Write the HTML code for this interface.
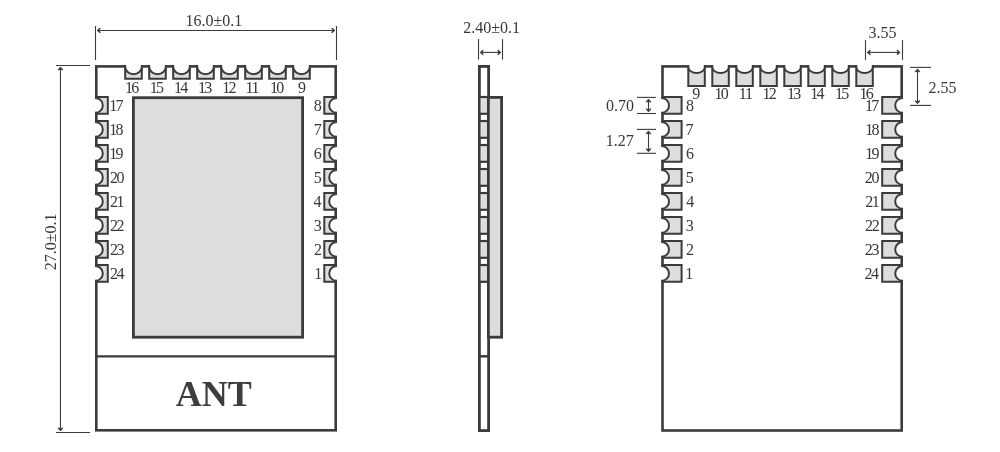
<!DOCTYPE html>
<html><head><meta charset="utf-8"><style>
html,body{margin:0;padding:0;background:#fff;}
body{width:1000px;height:452px;overflow:hidden;}
svg{display:block;filter:grayscale(1);}
text{font-family:"Liberation Serif",serif;fill:#383838;}
</style></head><body>
<svg width="1000" height="452" viewBox="0 0 1000 452">
<rect x="96.30" y="66.40" width="239.40" height="363.90" fill="none" stroke="#3b3b3b" stroke-width="2.60"/>
<line x1="96.30" y1="356.40" x2="335.70" y2="356.40" stroke="#3b3b3b" stroke-width="2.40"/>
<rect x="133.4" y="97.7" width="169.2" height="239.5" fill="#dddddd" stroke="#3b3b3b" stroke-width="2.8"/>
<path d="M125.20 66.40 V78.70 H141.80 V66.40" fill="#dddddd" stroke="#3b3b3b" stroke-width="2.00"/><path d="M125.20 64.10 V66.90 A8.30 7.25 0 0 0 141.80 66.90 V64.10 Z" fill="#fff"/><path d="M125.20 65.10 V66.90 A8.30 7.25 0 0 0 141.80 66.90 V65.10" fill="none" stroke="#3b3b3b" stroke-width="2.00"/>
<text x="125.04 131.24" y="92.80" font-size="16.00">16</text>
<path d="M149.20 66.40 V78.70 H165.80 V66.40" fill="#dddddd" stroke="#3b3b3b" stroke-width="2.00"/><path d="M149.20 64.10 V66.90 A8.30 7.25 0 0 0 165.80 66.90 V64.10 Z" fill="#fff"/><path d="M149.20 65.10 V66.90 A8.30 7.25 0 0 0 165.80 66.90 V65.10" fill="none" stroke="#3b3b3b" stroke-width="2.00"/>
<text x="149.81 156.01" y="92.80" font-size="16.00">15</text>
<path d="M173.20 66.40 V78.70 H189.80 V66.40" fill="#dddddd" stroke="#3b3b3b" stroke-width="2.00"/><path d="M173.20 64.10 V66.90 A8.30 7.25 0 0 0 189.80 66.90 V64.10 Z" fill="#fff"/><path d="M173.20 65.10 V66.90 A8.30 7.25 0 0 0 189.80 66.90 V65.10" fill="none" stroke="#3b3b3b" stroke-width="2.00"/>
<text x="174.12 180.32" y="92.80" font-size="16.00">14</text>
<path d="M197.20 66.40 V78.70 H213.80 V66.40" fill="#dddddd" stroke="#3b3b3b" stroke-width="2.00"/><path d="M197.20 64.10 V66.90 A8.30 7.25 0 0 0 213.80 66.90 V64.10 Z" fill="#fff"/><path d="M197.20 65.10 V66.90 A8.30 7.25 0 0 0 213.80 66.90 V65.10" fill="none" stroke="#3b3b3b" stroke-width="2.00"/>
<text x="198.11 204.31" y="92.80" font-size="16.00">13</text>
<path d="M221.20 66.40 V78.70 H237.80 V66.40" fill="#dddddd" stroke="#3b3b3b" stroke-width="2.00"/><path d="M221.20 64.10 V66.90 A8.30 7.25 0 0 0 237.80 66.90 V64.10 Z" fill="#fff"/><path d="M221.20 65.10 V66.90 A8.30 7.25 0 0 0 237.80 66.90 V65.10" fill="none" stroke="#3b3b3b" stroke-width="2.00"/>
<text x="222.24 228.44" y="92.80" font-size="16.00">12</text>
<path d="M245.20 66.40 V78.70 H261.80 V66.40" fill="#dddddd" stroke="#3b3b3b" stroke-width="2.00"/><path d="M245.20 64.10 V66.90 A8.30 7.25 0 0 0 261.80 66.90 V64.10 Z" fill="#fff"/><path d="M245.20 65.10 V66.90 A8.30 7.25 0 0 0 261.80 66.90 V65.10" fill="none" stroke="#3b3b3b" stroke-width="2.00"/>
<text x="245.38 251.58" y="92.80" font-size="16.00">11</text>
<path d="M269.20 66.40 V78.70 H285.80 V66.40" fill="#dddddd" stroke="#3b3b3b" stroke-width="2.00"/><path d="M269.20 64.10 V66.90 A8.30 7.25 0 0 0 285.80 66.90 V64.10 Z" fill="#fff"/><path d="M269.20 65.10 V66.90 A8.30 7.25 0 0 0 285.80 66.90 V65.10" fill="none" stroke="#3b3b3b" stroke-width="2.00"/>
<text x="270.10 276.30" y="92.80" font-size="16.00">10</text>
<path d="M293.20 66.40 V78.70 H309.80 V66.40" fill="#dddddd" stroke="#3b3b3b" stroke-width="2.00"/><path d="M293.20 64.10 V66.90 A8.30 7.25 0 0 0 309.80 66.90 V64.10 Z" fill="#fff"/><path d="M293.20 65.10 V66.90 A8.30 7.25 0 0 0 309.80 66.90 V65.10" fill="none" stroke="#3b3b3b" stroke-width="2.00"/>
<text x="298.07" y="92.80" font-size="16.00">9</text>
<path d="M96.30 97.00 H107.80 V113.80 H96.30" fill="#dddddd" stroke="#3b3b3b" stroke-width="2.00"/><path d="M94.00 98.00 H95.40 A7.40 7.40 0 0 1 95.40 112.80 H94.00 Z" fill="#fff"/><path d="M95.00 98.00 H95.40 A7.40 7.40 0 0 1 95.40 112.80 H95.00" fill="none" stroke="#3b3b3b" stroke-width="2.00"/>
<text x="109.19 115.39" y="111.00" font-size="16.00">17</text>
<path d="M335.70 97.00 H324.30 V113.80 H335.70" fill="#dddddd" stroke="#3b3b3b" stroke-width="2.00"/><path d="M338.00 98.00 H336.60 A7.40 7.40 0 0 0 336.60 112.80 H338.00 Z" fill="#fff"/><path d="M337.00 98.00 H336.60 A7.40 7.40 0 0 0 336.60 112.80 H337.00" fill="none" stroke="#3b3b3b" stroke-width="2.00"/>
<text x="313.81" y="111.00" font-size="16.00">8</text>
<path d="M96.30 121.00 H107.80 V137.80 H96.30" fill="#dddddd" stroke="#3b3b3b" stroke-width="2.00"/><path d="M94.00 122.00 H95.40 A7.40 7.40 0 0 1 95.40 136.80 H94.00 Z" fill="#fff"/><path d="M95.00 122.00 H95.40 A7.40 7.40 0 0 1 95.40 136.80 H95.00" fill="none" stroke="#3b3b3b" stroke-width="2.00"/>
<text x="109.19 115.39" y="135.00" font-size="16.00">18</text>
<path d="M335.70 121.00 H324.30 V137.80 H335.70" fill="#dddddd" stroke="#3b3b3b" stroke-width="2.00"/><path d="M338.00 122.00 H336.60 A7.40 7.40 0 0 0 336.60 136.80 H338.00 Z" fill="#fff"/><path d="M337.00 122.00 H336.60 A7.40 7.40 0 0 0 336.60 136.80 H337.00" fill="none" stroke="#3b3b3b" stroke-width="2.00"/>
<text x="313.66" y="135.00" font-size="16.00">7</text>
<path d="M96.30 145.00 H107.80 V161.80 H96.30" fill="#dddddd" stroke="#3b3b3b" stroke-width="2.00"/><path d="M94.00 146.00 H95.40 A7.40 7.40 0 0 1 95.40 160.80 H94.00 Z" fill="#fff"/><path d="M95.00 146.00 H95.40 A7.40 7.40 0 0 1 95.40 160.80 H95.00" fill="none" stroke="#3b3b3b" stroke-width="2.00"/>
<text x="109.19 115.39" y="159.00" font-size="16.00">19</text>
<path d="M335.70 145.00 H324.30 V161.80 H335.70" fill="#dddddd" stroke="#3b3b3b" stroke-width="2.00"/><path d="M338.00 146.00 H336.60 A7.40 7.40 0 0 0 336.60 160.80 H338.00 Z" fill="#fff"/><path d="M337.00 146.00 H336.60 A7.40 7.40 0 0 0 336.60 160.80 H337.00" fill="none" stroke="#3b3b3b" stroke-width="2.00"/>
<text x="313.68" y="159.00" font-size="16.00">6</text>
<path d="M96.30 169.00 H107.80 V185.80 H96.30" fill="#dddddd" stroke="#3b3b3b" stroke-width="2.00"/><path d="M94.00 170.00 H95.40 A7.40 7.40 0 0 1 95.40 184.80 H94.00 Z" fill="#fff"/><path d="M95.00 170.00 H95.40 A7.40 7.40 0 0 1 95.40 184.80 H95.00" fill="none" stroke="#3b3b3b" stroke-width="2.00"/>
<text x="109.90 116.50" y="183.00" font-size="16.00">20</text>
<path d="M335.70 169.00 H324.30 V185.80 H335.70" fill="#dddddd" stroke="#3b3b3b" stroke-width="2.00"/><path d="M338.00 170.00 H336.60 A7.40 7.40 0 0 0 336.60 184.80 H338.00 Z" fill="#fff"/><path d="M337.00 170.00 H336.60 A7.40 7.40 0 0 0 336.60 184.80 H337.00" fill="none" stroke="#3b3b3b" stroke-width="2.00"/>
<text x="313.82" y="183.00" font-size="16.00">5</text>
<path d="M96.30 193.00 H107.80 V209.80 H96.30" fill="#dddddd" stroke="#3b3b3b" stroke-width="2.00"/><path d="M94.00 194.00 H95.40 A7.40 7.40 0 0 1 95.40 208.80 H94.00 Z" fill="#fff"/><path d="M95.00 194.00 H95.40 A7.40 7.40 0 0 1 95.40 208.80 H95.00" fill="none" stroke="#3b3b3b" stroke-width="2.00"/>
<text x="109.90 116.50" y="207.00" font-size="16.00">21</text>
<path d="M335.70 193.00 H324.30 V209.80 H335.70" fill="#dddddd" stroke="#3b3b3b" stroke-width="2.00"/><path d="M338.00 194.00 H336.60 A7.40 7.40 0 0 0 336.60 208.80 H338.00 Z" fill="#fff"/><path d="M337.00 194.00 H336.60 A7.40 7.40 0 0 0 336.60 208.80 H337.00" fill="none" stroke="#3b3b3b" stroke-width="2.00"/>
<text x="313.45" y="207.00" font-size="16.00">4</text>
<path d="M96.30 217.00 H107.80 V233.80 H96.30" fill="#dddddd" stroke="#3b3b3b" stroke-width="2.00"/><path d="M94.00 218.00 H95.40 A7.40 7.40 0 0 1 95.40 232.80 H94.00 Z" fill="#fff"/><path d="M95.00 218.00 H95.40 A7.40 7.40 0 0 1 95.40 232.80 H95.00" fill="none" stroke="#3b3b3b" stroke-width="2.00"/>
<text x="109.90 116.50" y="231.00" font-size="16.00">22</text>
<path d="M335.70 217.00 H324.30 V233.80 H335.70" fill="#dddddd" stroke="#3b3b3b" stroke-width="2.00"/><path d="M338.00 218.00 H336.60 A7.40 7.40 0 0 0 336.60 232.80 H338.00 Z" fill="#fff"/><path d="M337.00 218.00 H336.60 A7.40 7.40 0 0 0 336.60 232.80 H337.00" fill="none" stroke="#3b3b3b" stroke-width="2.00"/>
<text x="313.82" y="231.00" font-size="16.00">3</text>
<path d="M96.30 241.00 H107.80 V257.80 H96.30" fill="#dddddd" stroke="#3b3b3b" stroke-width="2.00"/><path d="M94.00 242.00 H95.40 A7.40 7.40 0 0 1 95.40 256.80 H94.00 Z" fill="#fff"/><path d="M95.00 242.00 H95.40 A7.40 7.40 0 0 1 95.40 256.80 H95.00" fill="none" stroke="#3b3b3b" stroke-width="2.00"/>
<text x="109.90 116.50" y="255.00" font-size="16.00">23</text>
<path d="M335.70 241.00 H324.30 V257.80 H335.70" fill="#dddddd" stroke="#3b3b3b" stroke-width="2.00"/><path d="M338.00 242.00 H336.60 A7.40 7.40 0 0 0 336.60 256.80 H338.00 Z" fill="#fff"/><path d="M337.00 242.00 H336.60 A7.40 7.40 0 0 0 336.60 256.80 H337.00" fill="none" stroke="#3b3b3b" stroke-width="2.00"/>
<text x="314.08" y="255.00" font-size="16.00">2</text>
<path d="M96.30 265.00 H107.80 V281.80 H96.30" fill="#dddddd" stroke="#3b3b3b" stroke-width="2.00"/><path d="M94.00 266.00 H95.40 A7.40 7.40 0 0 1 95.40 280.80 H94.00 Z" fill="#fff"/><path d="M95.00 266.00 H95.40 A7.40 7.40 0 0 1 95.40 280.80 H95.00" fill="none" stroke="#3b3b3b" stroke-width="2.00"/>
<text x="109.90 116.50" y="279.00" font-size="16.00">24</text>
<path d="M335.70 265.00 H324.30 V281.80 H335.70" fill="#dddddd" stroke="#3b3b3b" stroke-width="2.00"/><path d="M338.00 266.00 H336.60 A7.40 7.40 0 0 0 336.60 280.80 H338.00 Z" fill="#fff"/><path d="M337.00 266.00 H336.60 A7.40 7.40 0 0 0 336.60 280.80 H337.00" fill="none" stroke="#3b3b3b" stroke-width="2.00"/>
<text x="314.16" y="279.00" font-size="16.00">1</text>
<text x="213.7" y="405.6" text-anchor="middle" font-size="36" font-weight="bold" style="fill:#3d3d3d">ANT</text>
<line x1="95.50" y1="26.00" x2="95.50" y2="60.00" stroke="#3b3b3b" stroke-width="1.10"/>
<line x1="336.50" y1="26.00" x2="336.50" y2="60.00" stroke="#3b3b3b" stroke-width="1.10"/>
<line x1="98.60" y1="30.45" x2="333.40" y2="30.45" stroke="#3b3b3b" stroke-width="1.10"/><path d="M97.10 30.45 L100.10 27.95 L99.30 30.45 L100.10 32.95 Z" fill="#3b3b3b" stroke="#3b3b3b" stroke-width="0.9" stroke-linejoin="round"/><path d="M334.90 30.45 L331.90 27.95 L332.70 30.45 L331.90 32.95 Z" fill="#3b3b3b" stroke="#3b3b3b" stroke-width="0.9" stroke-linejoin="round"/>
<text x="185.59 193.59 201.59 205.59 213.59 222.37 230.37 234.37" y="26.00" font-size="16.00">16.0±0.1</text>
<line x1="56.00" y1="65.50" x2="90.00" y2="65.50" stroke="#3b3b3b" stroke-width="1.10"/>
<line x1="56.00" y1="432.50" x2="90.00" y2="432.50" stroke="#3b3b3b" stroke-width="1.10"/>
<line x1="60.45" y1="68.50" x2="60.45" y2="429.40" stroke="#3b3b3b" stroke-width="1.10"/><path d="M60.45 67.00 L57.95 70.00 L60.45 69.20 L62.95 70.00 Z" fill="#3b3b3b" stroke="#3b3b3b" stroke-width="0.9" stroke-linejoin="round"/><path d="M60.45 430.90 L57.95 427.90 L60.45 428.70 L62.95 427.90 Z" fill="#3b3b3b" stroke="#3b3b3b" stroke-width="0.9" stroke-linejoin="round"/>
<g transform="translate(56.2 0) rotate(-90)"><text x="-270.31 -262.31 -254.31 -250.31 -242.31 -233.53 -225.53 -221.53" y="0.00" font-size="16.00">27.0±0.1</text></g>
<rect x="479.4" y="66.4" width="9.2" height="364.2" fill="none" stroke="#3b3b3b" stroke-width="2.8"/>
<rect x="479.4" y="97.00" width="9.2" height="16.80" fill="#dddddd" stroke="#3b3b3b" stroke-width="2.2"/>
<rect x="479.4" y="121.00" width="9.2" height="16.80" fill="#dddddd" stroke="#3b3b3b" stroke-width="2.2"/>
<rect x="479.4" y="145.00" width="9.2" height="16.80" fill="#dddddd" stroke="#3b3b3b" stroke-width="2.2"/>
<rect x="479.4" y="169.00" width="9.2" height="16.80" fill="#dddddd" stroke="#3b3b3b" stroke-width="2.2"/>
<rect x="479.4" y="193.00" width="9.2" height="16.80" fill="#dddddd" stroke="#3b3b3b" stroke-width="2.2"/>
<rect x="479.4" y="217.00" width="9.2" height="16.80" fill="#dddddd" stroke="#3b3b3b" stroke-width="2.2"/>
<rect x="479.4" y="241.00" width="9.2" height="16.80" fill="#dddddd" stroke="#3b3b3b" stroke-width="2.2"/>
<rect x="479.4" y="265.00" width="9.2" height="16.80" fill="#dddddd" stroke="#3b3b3b" stroke-width="2.2"/>
<line x1="479.40" y1="356.30" x2="488.60" y2="356.30" stroke="#3b3b3b" stroke-width="2.50"/>
<rect x="488.4" y="97.4" width="13.2" height="239.8" fill="#dddddd" stroke="#3b3b3b" stroke-width="2.8"/>
<line x1="478.50" y1="39.10" x2="478.50" y2="59.60" stroke="#3b3b3b" stroke-width="1.10"/>
<line x1="502.50" y1="39.10" x2="502.50" y2="59.60" stroke="#3b3b3b" stroke-width="1.10"/>
<line x1="481.60" y1="52.40" x2="499.40" y2="52.40" stroke="#3b3b3b" stroke-width="1.10"/><path d="M480.10 52.40 L483.10 49.90 L482.30 52.40 L483.10 54.90 Z" fill="#3b3b3b" stroke="#3b3b3b" stroke-width="0.9" stroke-linejoin="round"/><path d="M500.90 52.40 L497.90 49.90 L498.70 52.40 L497.90 54.90 Z" fill="#3b3b3b" stroke="#3b3b3b" stroke-width="0.9" stroke-linejoin="round"/>
<text x="463.34 471.34 475.34 483.34 491.34 500.12 508.12 512.12" y="33.00" font-size="16.00">2.40±0.1</text>
<rect x="662.50" y="66.40" width="239.20" height="364.10" fill="none" stroke="#3b3b3b" stroke-width="2.60"/>
<path d="M688.30 66.40 V85.90 H704.80 V66.40" fill="#dddddd" stroke="#3b3b3b" stroke-width="2.00"/><path d="M688.30 64.10 V66.90 A8.25 6.10 0 0 0 704.80 66.90 V64.10 Z" fill="#fff"/><path d="M688.30 65.10 V66.90 A8.25 6.10 0 0 0 704.80 66.90 V65.10" fill="none" stroke="#3b3b3b" stroke-width="2.00"/>
<text x="692.27" y="98.70" font-size="16.00">9</text>
<path d="M712.30 66.40 V85.90 H728.80 V66.40" fill="#dddddd" stroke="#3b3b3b" stroke-width="2.00"/><path d="M712.30 64.10 V66.90 A8.25 6.10 0 0 0 728.80 66.90 V64.10 Z" fill="#fff"/><path d="M712.30 65.10 V66.90 A8.25 6.10 0 0 0 728.80 66.90 V65.10" fill="none" stroke="#3b3b3b" stroke-width="2.00"/>
<text x="714.50 720.70" y="98.70" font-size="16.00">10</text>
<path d="M736.30 66.40 V85.90 H752.80 V66.40" fill="#dddddd" stroke="#3b3b3b" stroke-width="2.00"/><path d="M736.30 64.10 V66.90 A8.25 6.10 0 0 0 752.80 66.90 V64.10 Z" fill="#fff"/><path d="M736.30 65.10 V66.90 A8.25 6.10 0 0 0 752.80 66.90 V65.10" fill="none" stroke="#3b3b3b" stroke-width="2.00"/>
<text x="738.68 744.88" y="98.70" font-size="16.00">11</text>
<path d="M760.30 66.40 V85.90 H776.80 V66.40" fill="#dddddd" stroke="#3b3b3b" stroke-width="2.00"/><path d="M760.30 64.10 V66.90 A8.25 6.10 0 0 0 776.80 66.90 V64.10 Z" fill="#fff"/><path d="M760.30 65.10 V66.90 A8.25 6.10 0 0 0 776.80 66.90 V65.10" fill="none" stroke="#3b3b3b" stroke-width="2.00"/>
<text x="762.54 768.74" y="98.70" font-size="16.00">12</text>
<path d="M784.30 66.40 V85.90 H800.80 V66.40" fill="#dddddd" stroke="#3b3b3b" stroke-width="2.00"/><path d="M784.30 64.10 V66.90 A8.25 6.10 0 0 0 800.80 66.90 V64.10 Z" fill="#fff"/><path d="M784.30 65.10 V66.90 A8.25 6.10 0 0 0 800.80 66.90 V65.10" fill="none" stroke="#3b3b3b" stroke-width="2.00"/>
<text x="787.11 793.31" y="98.70" font-size="16.00">13</text>
<path d="M808.30 66.40 V85.90 H824.80 V66.40" fill="#dddddd" stroke="#3b3b3b" stroke-width="2.00"/><path d="M808.30 64.10 V66.90 A8.25 6.10 0 0 0 824.80 66.90 V64.10 Z" fill="#fff"/><path d="M808.30 65.10 V66.90 A8.25 6.10 0 0 0 824.80 66.90 V65.10" fill="none" stroke="#3b3b3b" stroke-width="2.00"/>
<text x="810.32 816.52" y="98.70" font-size="16.00">14</text>
<path d="M832.30 66.40 V85.90 H848.80 V66.40" fill="#dddddd" stroke="#3b3b3b" stroke-width="2.00"/><path d="M832.30 64.10 V66.90 A8.25 6.10 0 0 0 848.80 66.90 V64.10 Z" fill="#fff"/><path d="M832.30 65.10 V66.90 A8.25 6.10 0 0 0 848.80 66.90 V65.10" fill="none" stroke="#3b3b3b" stroke-width="2.00"/>
<text x="835.01 841.21" y="98.70" font-size="16.00">15</text>
<path d="M856.30 66.40 V85.90 H872.80 V66.40" fill="#dddddd" stroke="#3b3b3b" stroke-width="2.00"/><path d="M856.30 64.10 V66.90 A8.25 6.10 0 0 0 872.80 66.90 V64.10 Z" fill="#fff"/><path d="M856.30 65.10 V66.90 A8.25 6.10 0 0 0 872.80 66.90 V65.10" fill="none" stroke="#3b3b3b" stroke-width="2.00"/>
<text x="859.54 865.74" y="98.70" font-size="16.00">16</text>
<path d="M662.50 97.00 H681.60 V113.80 H662.50" fill="#dddddd" stroke="#3b3b3b" stroke-width="2.00"/><path d="M660.20 98.00 H661.60 A7.40 7.40 0 0 1 661.60 112.80 H660.20 Z" fill="#fff"/><path d="M661.20 98.00 H661.60 A7.40 7.40 0 0 1 661.60 112.80 H661.20" fill="none" stroke="#3b3b3b" stroke-width="2.00"/>
<text x="685.99" y="111.00" font-size="16.00">8</text>
<path d="M901.70 97.00 H882.20 V113.80 H901.70" fill="#dddddd" stroke="#3b3b3b" stroke-width="2.00"/><path d="M904.00 98.00 H902.60 A7.40 7.40 0 0 0 902.60 112.80 H904.00 Z" fill="#fff"/><path d="M903.00 98.00 H902.60 A7.40 7.40 0 0 0 902.60 112.80 H903.00" fill="none" stroke="#3b3b3b" stroke-width="2.00"/>
<text x="865.06 871.26" y="111.00" font-size="16.00">17</text>
<path d="M662.50 121.00 H681.60 V137.80 H662.50" fill="#dddddd" stroke="#3b3b3b" stroke-width="2.00"/><path d="M660.20 122.00 H661.60 A7.40 7.40 0 0 1 661.60 136.80 H660.20 Z" fill="#fff"/><path d="M661.20 122.00 H661.60 A7.40 7.40 0 0 1 661.60 136.80 H661.20" fill="none" stroke="#3b3b3b" stroke-width="2.00"/>
<text x="685.55" y="135.00" font-size="16.00">7</text>
<path d="M901.70 121.00 H882.20 V137.80 H901.70" fill="#dddddd" stroke="#3b3b3b" stroke-width="2.00"/><path d="M904.00 122.00 H902.60 A7.40 7.40 0 0 0 902.60 136.80 H904.00 Z" fill="#fff"/><path d="M903.00 122.00 H902.60 A7.40 7.40 0 0 0 902.60 136.80 H903.00" fill="none" stroke="#3b3b3b" stroke-width="2.00"/>
<text x="865.21 871.41" y="135.00" font-size="16.00">18</text>
<path d="M662.50 145.00 H681.60 V161.80 H662.50" fill="#dddddd" stroke="#3b3b3b" stroke-width="2.00"/><path d="M660.20 146.00 H661.60 A7.40 7.40 0 0 1 661.60 160.80 H660.20 Z" fill="#fff"/><path d="M661.20 146.00 H661.60 A7.40 7.40 0 0 1 661.60 160.80 H661.20" fill="none" stroke="#3b3b3b" stroke-width="2.00"/>
<text x="685.91" y="159.00" font-size="16.00">6</text>
<path d="M901.70 145.00 H882.20 V161.80 H901.70" fill="#dddddd" stroke="#3b3b3b" stroke-width="2.00"/><path d="M904.00 146.00 H902.60 A7.40 7.40 0 0 0 902.60 160.80 H904.00 Z" fill="#fff"/><path d="M903.00 146.00 H902.60 A7.40 7.40 0 0 0 902.60 160.80 H903.00" fill="none" stroke="#3b3b3b" stroke-width="2.00"/>
<text x="865.26 871.46" y="159.00" font-size="16.00">19</text>
<path d="M662.50 169.00 H681.60 V185.80 H662.50" fill="#dddddd" stroke="#3b3b3b" stroke-width="2.00"/><path d="M660.20 170.00 H661.60 A7.40 7.40 0 0 1 661.60 184.80 H660.20 Z" fill="#fff"/><path d="M661.20 170.00 H661.60 A7.40 7.40 0 0 1 661.60 184.80 H661.20" fill="none" stroke="#3b3b3b" stroke-width="2.00"/>
<text x="685.67" y="183.00" font-size="16.00">5</text>
<path d="M901.70 169.00 H882.20 V185.80 H901.70" fill="#dddddd" stroke="#3b3b3b" stroke-width="2.00"/><path d="M904.00 170.00 H902.60 A7.40 7.40 0 0 0 902.60 184.80 H904.00 Z" fill="#fff"/><path d="M903.00 170.00 H902.60 A7.40 7.40 0 0 0 902.60 184.80 H903.00" fill="none" stroke="#3b3b3b" stroke-width="2.00"/>
<text x="864.81 871.41" y="183.00" font-size="16.00">20</text>
<path d="M662.50 193.00 H681.60 V209.80 H662.50" fill="#dddddd" stroke="#3b3b3b" stroke-width="2.00"/><path d="M660.20 194.00 H661.60 A7.40 7.40 0 0 1 661.60 208.80 H660.20 Z" fill="#fff"/><path d="M661.20 194.00 H661.60 A7.40 7.40 0 0 1 661.60 208.80 H661.20" fill="none" stroke="#3b3b3b" stroke-width="2.00"/>
<text x="686.29" y="207.00" font-size="16.00">4</text>
<path d="M901.70 193.00 H882.20 V209.80 H901.70" fill="#dddddd" stroke="#3b3b3b" stroke-width="2.00"/><path d="M904.00 194.00 H902.60 A7.40 7.40 0 0 0 902.60 208.80 H904.00 Z" fill="#fff"/><path d="M903.00 194.00 H902.60 A7.40 7.40 0 0 0 902.60 208.80 H903.00" fill="none" stroke="#3b3b3b" stroke-width="2.00"/>
<text x="865.16 871.76" y="207.00" font-size="16.00">21</text>
<path d="M662.50 217.00 H681.60 V233.80 H662.50" fill="#dddddd" stroke="#3b3b3b" stroke-width="2.00"/><path d="M660.20 218.00 H661.60 A7.40 7.40 0 0 1 661.60 232.80 H660.20 Z" fill="#fff"/><path d="M661.20 218.00 H661.60 A7.40 7.40 0 0 1 661.60 232.80 H661.20" fill="none" stroke="#3b3b3b" stroke-width="2.00"/>
<text x="685.83" y="231.00" font-size="16.00">3</text>
<path d="M901.70 217.00 H882.20 V233.80 H901.70" fill="#dddddd" stroke="#3b3b3b" stroke-width="2.00"/><path d="M904.00 218.00 H902.60 A7.40 7.40 0 0 0 902.60 232.80 H904.00 Z" fill="#fff"/><path d="M903.00 218.00 H902.60 A7.40 7.40 0 0 0 902.60 232.80 H903.00" fill="none" stroke="#3b3b3b" stroke-width="2.00"/>
<text x="865.08 871.68" y="231.00" font-size="16.00">22</text>
<path d="M662.50 241.00 H681.60 V257.80 H662.50" fill="#dddddd" stroke="#3b3b3b" stroke-width="2.00"/><path d="M660.20 242.00 H661.60 A7.40 7.40 0 0 1 661.60 256.80 H660.20 Z" fill="#fff"/><path d="M661.20 242.00 H661.60 A7.40 7.40 0 0 1 661.60 256.80 H661.20" fill="none" stroke="#3b3b3b" stroke-width="2.00"/>
<text x="685.90" y="255.00" font-size="16.00">2</text>
<path d="M901.70 241.00 H882.20 V257.80 H901.70" fill="#dddddd" stroke="#3b3b3b" stroke-width="2.00"/><path d="M904.00 242.00 H902.60 A7.40 7.40 0 0 0 902.60 256.80 H904.00 Z" fill="#fff"/><path d="M903.00 242.00 H902.60 A7.40 7.40 0 0 0 902.60 256.80 H903.00" fill="none" stroke="#3b3b3b" stroke-width="2.00"/>
<text x="864.82 871.42" y="255.00" font-size="16.00">23</text>
<path d="M662.50 265.00 H681.60 V281.80 H662.50" fill="#dddddd" stroke="#3b3b3b" stroke-width="2.00"/><path d="M660.20 266.00 H661.60 A7.40 7.40 0 0 1 661.60 280.80 H660.20 Z" fill="#fff"/><path d="M661.20 266.00 H661.60 A7.40 7.40 0 0 1 661.60 280.80 H661.20" fill="none" stroke="#3b3b3b" stroke-width="2.00"/>
<text x="685.19" y="279.00" font-size="16.00">1</text>
<path d="M901.70 265.00 H882.20 V281.80 H901.70" fill="#dddddd" stroke="#3b3b3b" stroke-width="2.00"/><path d="M904.00 266.00 H902.60 A7.40 7.40 0 0 0 902.60 280.80 H904.00 Z" fill="#fff"/><path d="M903.00 266.00 H902.60 A7.40 7.40 0 0 0 902.60 280.80 H903.00" fill="none" stroke="#3b3b3b" stroke-width="2.00"/>
<text x="864.45 871.05" y="279.00" font-size="16.00">24</text>
<line x1="865.50" y1="40.10" x2="865.50" y2="59.80" stroke="#3b3b3b" stroke-width="1.10"/>
<line x1="902.50" y1="40.10" x2="902.50" y2="59.80" stroke="#3b3b3b" stroke-width="1.10"/>
<line x1="868.70" y1="52.40" x2="898.60" y2="52.40" stroke="#3b3b3b" stroke-width="1.10"/><path d="M867.20 52.40 L870.20 49.90 L869.40 52.40 L870.20 54.90 Z" fill="#3b3b3b" stroke="#3b3b3b" stroke-width="0.9" stroke-linejoin="round"/><path d="M900.10 52.40 L897.10 49.90 L897.90 52.40 L897.10 54.90 Z" fill="#3b3b3b" stroke="#3b3b3b" stroke-width="0.9" stroke-linejoin="round"/>
<text x="868.53 876.53 880.53 888.53" y="37.80" font-size="16.00">3.55</text>
<line x1="910.00" y1="67.40" x2="931.00" y2="67.40" stroke="#3b3b3b" stroke-width="1.10"/>
<line x1="910.00" y1="105.40" x2="931.00" y2="105.40" stroke="#3b3b3b" stroke-width="1.10"/>
<line x1="917.50" y1="70.40" x2="917.50" y2="102.30" stroke="#3b3b3b" stroke-width="1.10"/><path d="M917.50 68.90 L915.00 71.90 L917.50 71.10 L920.00 71.90 Z" fill="#3b3b3b" stroke="#3b3b3b" stroke-width="0.9" stroke-linejoin="round"/><path d="M917.50 103.80 L915.00 100.80 L917.50 101.60 L920.00 100.80 Z" fill="#3b3b3b" stroke="#3b3b3b" stroke-width="0.9" stroke-linejoin="round"/>
<text x="928.61 936.61 940.61 948.61" y="92.90" font-size="16.00">2.55</text>
<line x1="637.00" y1="97.40" x2="656.00" y2="97.40" stroke="#3b3b3b" stroke-width="1.10"/>
<line x1="637.00" y1="113.50" x2="656.00" y2="113.50" stroke="#3b3b3b" stroke-width="1.10"/>
<line x1="648.50" y1="100.60" x2="648.50" y2="110.40" stroke="#3b3b3b" stroke-width="1.10"/><path d="M648.50 99.10 L646.00 102.10 L648.50 101.30 L651.00 102.10 Z" fill="#3b3b3b" stroke="#3b3b3b" stroke-width="0.9" stroke-linejoin="round"/><path d="M648.50 111.90 L646.00 108.90 L648.50 109.70 L651.00 108.90 Z" fill="#3b3b3b" stroke="#3b3b3b" stroke-width="0.9" stroke-linejoin="round"/>
<text x="606.00 614.00 618.00 626.00" y="110.80" font-size="16.00">0.70</text>
<line x1="637.00" y1="129.40" x2="656.00" y2="129.40" stroke="#3b3b3b" stroke-width="1.10"/>
<line x1="637.00" y1="153.30" x2="656.00" y2="153.30" stroke="#3b3b3b" stroke-width="1.10"/>
<line x1="648.50" y1="132.40" x2="648.50" y2="150.30" stroke="#3b3b3b" stroke-width="1.10"/><path d="M648.50 130.90 L646.00 133.90 L648.50 133.10 L651.00 133.90 Z" fill="#3b3b3b" stroke="#3b3b3b" stroke-width="0.9" stroke-linejoin="round"/><path d="M648.50 151.80 L646.00 148.80 L648.50 149.60 L651.00 148.80 Z" fill="#3b3b3b" stroke="#3b3b3b" stroke-width="0.9" stroke-linejoin="round"/>
<text x="605.68 613.68 617.68 625.68" y="146.40" font-size="16.00">1.27</text>
</svg>
</body></html>
